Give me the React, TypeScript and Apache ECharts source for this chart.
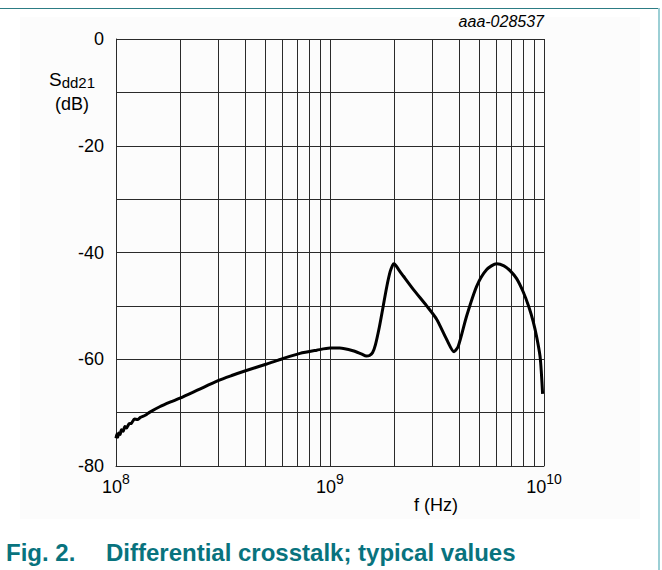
import React, { useEffect, useRef } from "react";
import * as echarts from "echarts";

// Frequency (Hz) and Sdd21 (dB)
const freqHz: number[] = [
  1.0e8, 1.01e8, 1.02e8, 1.03e8, 1.045e8, 1.06e8, 1.08e8, 1.1e8, 1.12e8, 1.15e8,
  1.18e8, 1.22e8, 1.26e8, 1.3e8, 1.37e8, 1.44e8, 1.6e8, 1.8e8, 1.99e8, 2.4e8,
  3.0e8, 3.5e8, 4.0e8, 5.06e8, 6.0e8, 7.24e8, 8.67e8, 1.0e9, 1.11e9, 1.28e9,
  1.4e9, 1.48e9, 1.53e9, 1.58e9, 1.63e9, 1.7e9, 1.77e9, 1.84e9, 1.91e9, 1.96e9,
  1.99e9, 2.03e9, 2.1e9, 2.2e9, 2.45e9, 2.83e9, 3.15e9, 3.51e9, 3.8e9, 3.98e9,
  4.35e9, 4.85e9, 5.4e9, 6.01e9, 6.5e9, 6.94e9, 7.45e9, 8.0e9, 8.5e9, 8.91e9,
  9.25e9, 9.58e9, 9.72e9, 9.85e9,
];
const sdd21dB: number[] = [
  -74.8, -74.0, -74.6, -73.8, -74.1, -73.2, -73.5, -72.6, -72.9, -72.1,
  -72.0, -71.2, -71.3, -70.9, -70.5, -69.9, -68.9, -68.0, -67.3, -65.8,
  -64.0, -63.0, -62.2, -60.9, -59.9, -58.9, -58.3, -57.9, -57.9, -58.4,
  -59.0, -59.4, -59.3, -58.8, -57.3, -54.0, -50.2, -46.5, -43.6, -42.4,
  -42.1, -42.4, -43.3, -44.4, -46.9, -50.0, -52.5, -56.3, -58.6, -57.5,
  -51.9, -46.3, -43.2, -42.1, -42.5, -43.4, -44.9, -47.4, -50.2, -53.0,
  -55.9, -59.4, -62.5, -66.5,
];

// Minor vertical grid lines (log decades)
const minorGridHz: number[] = [
  2e8, 3e8, 4e8, 5e8, 6e8, 7e8, 8e8, 9e8,
  2e9, 3e9, 4e9, 5e9, 6e9, 7e9, 8e9, 9e9,
];

const yTicksLabelled: number[] = [0, -20, -40, -60, -80];

const FONT = "Arial, 'Liberation Sans', Helvetica, sans-serif";
const TEAL = "#08737e";
const GRIDC = "#2a2a2a";

export default function App() {
  const ref = useRef<HTMLDivElement>(null);

  useEffect(() => {
    if (!ref.current) return;
    const chart = echarts.init(ref.current, null, { renderer: "svg" });
    const data = freqHz.map((f, i) => [f, sdd21dB[i]]);
    const option: any = {
      animation: false,
      backgroundColor: "#ffffff",
      textStyle: { fontFamily: FONT },
      grid: { left: 116, top: 39, width: 428, height: 427, containLabel: false },
      xAxis: {
        type: "log",
        logBase: 10,
        min: 1e8,
        max: 1e10,
        axisLine: { show: true, onZero: false, lineStyle: { color: GRIDC, width: 1 } },
        axisTick: { show: false },
        splitLine: { show: true, lineStyle: { color: GRIDC, width: 1 } },
        axisLabel: {
          margin: 6,
          color: "#000",
          fontFamily: FONT,
          formatter: (v: number) => {
            const e = Math.round(Math.log10(v));
            return `{b|10}{s|${e}}`;
          },
          rich: {
            b: { fontSize: 18, fontFamily: FONT, color: "#000", lineHeight: 24, verticalAlign: "bottom" },
            s: { fontSize: 14, fontFamily: FONT, color: "#000", lineHeight: 24, verticalAlign: "top", padding: [0, 0, 10, 0] },
          },
        },
      },
      yAxis: {
        type: "value",
        min: -80,
        max: 0,
        interval: 10,
        axisLine: { show: true, lineStyle: { color: GRIDC, width: 1 } },
        axisTick: { show: false },
        splitLine: { show: true, lineStyle: { color: GRIDC, width: 1 } },
        axisLabel: {
          margin: 12,
          fontSize: 18,
          color: "#000",
          fontFamily: FONT,
          formatter: (v: number) => (yTicksLabelled.indexOf(v) >= 0 ? String(v) : ""),
        },
      },
      series: [
        {
          type: "line",
          data,
          showSymbol: false,
          symbol: "none",
          smooth: 0.25,
          lineStyle: { color: "#000", width: 3 },
          z: 5,
          markLine: {
            silent: true,
            symbol: ["none", "none"],
            label: { show: false },
            lineStyle: { color: GRIDC, width: 1, type: "solid" },
            data: minorGridHz.map((f) => ({ xAxis: f })),
            z: 1,
          },
        },
      ],
      graphic: [
        { type: "rect", z: -10, shape: { x: 20, y: 17, width: 620, height: 502 }, style: { fill: "#fcfcfc" }, silent: true },
        { type: "line", shape: { x1: 0, y1: 8.5, x2: 659, y2: 8.5 }, style: { stroke: "#2c7c84", lineWidth: 1 } },
        { type: "line", shape: { x1: 659, y1: 8, x2: 659, y2: 570 }, style: { stroke: "#9ccfd5", lineWidth: 2 } },
        {
          type: "text",
          x: 544,
          y: 21,
          style: { text: "aaa-028537", font: `italic 16px ${FONT}`, fill: "#000", textAlign: "right", textVerticalAlign: "middle" },
        },
        {
          type: "text",
          x: 49,
          y: 70,
          style: {
            text: "{m|S}{sub|dd21}",
            rich: {
              m: { fontSize: 19, fontFamily: FONT, fill: "#000", lineHeight: 20, verticalAlign: "top" },
              sub: { fontSize: 15, fontFamily: FONT, fill: "#000", lineHeight: 14, verticalAlign: "bottom", padding: [6, 0, 0, 0] },
            },
          },
        },
        {
          type: "text",
          x: 72,
          y: 104,
          style: { text: "(dB)", font: `18px ${FONT}`, fill: "#000", textAlign: "center", textVerticalAlign: "middle" },
        },
        {
          type: "text",
          x: 436,
          y: 505,
          style: { text: "f (Hz)", font: `18px ${FONT}`, fill: "#000", textAlign: "center", textVerticalAlign: "middle" },
        },
        {
          type: "text",
          x: 6,
          y: 552,
          style: { text: "Fig. 2.", font: `bold 24px ${FONT}`, fill: TEAL, textAlign: "left", textVerticalAlign: "middle" },
        },
        {
          type: "text",
          x: 106,
          y: 552,
          style: { text: "Differential crosstalk; typical values", font: `bold 24px ${FONT}`, fill: TEAL, textAlign: "left", textVerticalAlign: "middle" },
        },
      ],
    };
    chart.setOption(option);
    return () => chart.dispose();
  }, []);

  return (
    <div
      ref={ref}
      style={{ position: "fixed", left: 0, top: 0, width: 662, height: 570 }}
    />
  );
}
